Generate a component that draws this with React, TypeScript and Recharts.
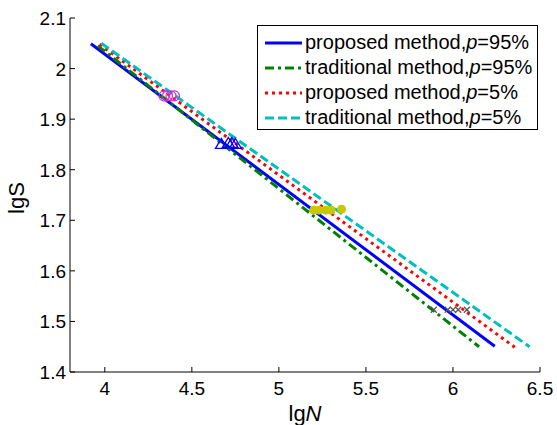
import React from "react";
import { ComposedChart, Line, Scatter, XAxis, YAxis } from "recharts";

const xTicks = [4, 4.5, 5, 5.5, 6, 6.5];
const yTicks = [1.4, 1.5, 1.6, 1.7, 1.8, 1.9, 2, 2.1];

const proposed95 = [
  { x: 3.92, y: 2.049 },
  { x: 6.24, y: 1.451 },
];
const traditional95 = [
  { x: 3.96, y: 2.045 },
  { x: 6.15, y: 1.45 },
];
const proposed5 = [
  { x: 3.97, y: 2.048 },
  { x: 6.355, y: 1.449 },
];
const traditional5 = [
  { x: 3.98, y: 2.05 },
  { x: 6.44, y: 1.45 },
];

const magentaPts = [
  { x: 4.34, y: 1.946 },
  { x: 4.36, y: 1.946 },
  { x: 4.38, y: 1.946 },
  { x: 4.4, y: 1.946 },
];
const bluePts = [
  { x: 4.67, y: 1.85 },
  { x: 4.71, y: 1.852 },
  { x: 4.73, y: 1.852 },
  { x: 4.75, y: 1.85 },
];
const yellowPts = [
  { x: 5.2, y: 1.72 },
  { x: 5.23, y: 1.72 },
  { x: 5.27, y: 1.72 },
  { x: 5.3, y: 1.72 },
  { x: 5.36, y: 1.722 },
];
const grayPts = [
  { x: 5.89, y: 1.523 },
  { x: 5.97, y: 1.523 },
  { x: 6.0, y: 1.523 },
  { x: 6.03, y: 1.523 },
  { x: 6.08, y: 1.523 },
];

const legendItems = [
  { label: "proposed method,", p: "95%", color: "#0000ff", dash: "" },
  { label: "traditional method,", p: "95%", color: "#008000", dash: "9 4 3 4" },
  { label: "proposed method,", p: "5%", color: "#ff0000", dash: "3 4" },
  { label: "traditional method,", p: "5%", color: "#00bfbf", dash: "9 4" },
];

const FONT = "'Liberation Sans', Arial, sans-serif";
const TICK = 5;

const fmt = (v: number) => String(Math.round(v * 10) / 10);

const BottomTick = (props: any) => {
  const { x, y, payload } = props;
  return (
    <g>
      <line x1={x} y1={y} x2={x} y2={y - TICK} stroke="#000" strokeWidth={1} />
      <text x={x} y={y + 23} textAnchor="middle" fontSize={19} fontFamily={FONT} fill="#000">
        {fmt(payload.value)}
      </text>
    </g>
  );
};
const TopTick = (props: any) => {
  const { x, y } = props;
  return <line x1={x} y1={y} x2={x} y2={y + TICK} stroke="#000" strokeWidth={1} />;
};
const LeftTick = (props: any) => {
  const { x, y, payload } = props;
  return (
    <g>
      <line x1={x} y1={y} x2={x + TICK} y2={y} stroke="#000" strokeWidth={1} />
      <text x={x - 4} y={y + 7} textAnchor="end" fontSize={19} fontFamily={FONT} fill="#000">
        {fmt(payload.value)}
      </text>
    </g>
  );
};
const RightTick = (props: any) => {
  const { x, y } = props;
  return <line x1={x} y1={y} x2={x - TICK} y2={y} stroke="#000" strokeWidth={1} />;
};

const CircleShape = (props: any) => (
  <circle cx={props.cx} cy={props.cy} r={5} fill="none" stroke="#cc33cc" strokeWidth={1.2} />
);
const TriShape = (props: any) => {
  const { cx, cy } = props;
  return (
    <polygon
      points={`${cx},${cy - 6} ${cx - 6},${cy + 4} ${cx + 6},${cy + 4}`}
      fill="none"
      stroke="#0000ff"
      strokeWidth={1.3}
    />
  );
};
const YellowShape = (props: any) => (
  <circle cx={props.cx} cy={props.cy} r={4} fill="#c8c800" stroke="#c8c800" />
);
const XShape = (props: any) => {
  const { cx, cy } = props;
  return (
    <g stroke="#555" strokeWidth={1.2}>
      <line x1={cx - 3} y1={cy - 3} x2={cx + 3} y2={cy + 3} />
      <line x1={cx - 3} y1={cy + 3} x2={cx + 3} y2={cy - 3} />
    </g>
  );
};

export default function App() {
  return (
    <div style={{ position: "absolute", left: 0, top: 0, width: 557, height: 425, background: "#fff" }}>
      <ComposedChart width={557} height={425} margin={{ top: 18, right: 17, bottom: 0, left: 0 }}>
        <XAxis
          xAxisId="b"
          type="number"
          dataKey="x"
          domain={[3.8, 6.5]}
          ticks={xTicks}
          allowDataOverflow
          height={53}
          tickSize={0}
          tickMargin={0}
          tickLine={false}
          axisLine={{ stroke: "#000", strokeWidth: 1 }}
          tick={<BottomTick />}
          interval={0}
        />
        <XAxis
          xAxisId="t"
          orientation="top"
          type="number"
          dataKey="x"
          domain={[3.8, 6.5]}
          ticks={xTicks}
          allowDataOverflow
          height={0}
          tickSize={0}
          tickMargin={0}
          tickLine={false}
          axisLine={{ stroke: "#000", strokeWidth: 1 }}
          tick={<TopTick />}
          interval={0}
        />
        <YAxis
          yAxisId="l"
          type="number"
          domain={[1.4, 2.1]}
          ticks={yTicks}
          allowDataOverflow
          width={70}
          tickSize={0}
          tickMargin={0}
          tickLine={false}
          axisLine={{ stroke: "#000", strokeWidth: 1 }}
          tick={<LeftTick />}
          interval={0}
        />
        <YAxis
          yAxisId="r"
          orientation="right"
          type="number"
          domain={[1.4, 2.1]}
          ticks={yTicks}
          allowDataOverflow
          width={0}
          tickSize={0}
          tickMargin={0}
          tickLine={false}
          axisLine={{ stroke: "#000", strokeWidth: 1 }}
          tick={<RightTick />}
          interval={0}
        />
        <Line xAxisId="b" yAxisId="l" data={proposed95} dataKey="y" stroke="#0000ff" strokeWidth={3} dot={false} isAnimationActive={false} type="linear" />
        <Line xAxisId="b" yAxisId="l" data={traditional95} dataKey="y" stroke="#008000" strokeWidth={3} strokeDasharray="9 4 3 4" dot={false} isAnimationActive={false} type="linear" />
        <Line xAxisId="b" yAxisId="l" data={proposed5} dataKey="y" stroke="#ff0000" strokeWidth={3} strokeDasharray="3 4" dot={false} isAnimationActive={false} type="linear" />
        <Line xAxisId="b" yAxisId="l" data={traditional5} dataKey="y" stroke="#00bfbf" strokeWidth={3} strokeDasharray="9 4" dot={false} isAnimationActive={false} type="linear" />
        <Scatter xAxisId="b" yAxisId="l" data={magentaPts} dataKey="y" shape={<CircleShape />} isAnimationActive={false} />
        <Scatter xAxisId="b" yAxisId="l" data={bluePts} dataKey="y" shape={<TriShape />} isAnimationActive={false} />
        <Scatter xAxisId="b" yAxisId="l" data={yellowPts} dataKey="y" shape={<YellowShape />} isAnimationActive={false} />
        <Scatter xAxisId="b" yAxisId="l" data={grayPts} dataKey="y" shape={<XShape />} isAnimationActive={false} />
      </ComposedChart>
      <div
        style={{
          position: "absolute",
          left: 17,
          top: 198,
          transform: "translate(-50%, -50%) rotate(-90deg)",
          fontFamily: FONT,
          fontSize: 22,
          whiteSpace: "nowrap",
        }}
      >
        lgS
      </div>
      <div
        style={{
          position: "absolute",
          left: 305,
          top: 414,
          transform: "translate(-50%, -50%)",
          fontFamily: FONT,
          fontSize: 22,
          whiteSpace: "nowrap",
        }}
      >
        lg<i>N</i>
      </div>
      <div
        style={{
          position: "absolute",
          left: 257,
          top: 25,
          width: 281,
          height: 105,
          border: "1px solid #000",
          background: "#fff",
          fontFamily: FONT,
          fontSize: 20,
          boxSizing: "border-box",
          paddingTop: 4,
        }}
      >
        {legendItems.map((it, i) => (
          <div key={i} style={{ display: "flex", alignItems: "center", height: 25, whiteSpace: "nowrap" }}>
            <svg width={46} height={10} style={{ flex: "none" }}>
              <line x1={7} y1={5} x2={44} y2={5} stroke={it.color} strokeWidth={3} strokeDasharray={it.dash || undefined} />
            </svg>
            <span style={{ marginLeft: 1 }}>
              {it.label}
              <i>p</i>={it.p}
            </span>
          </div>
        ))}
      </div>
    </div>
  );
}
